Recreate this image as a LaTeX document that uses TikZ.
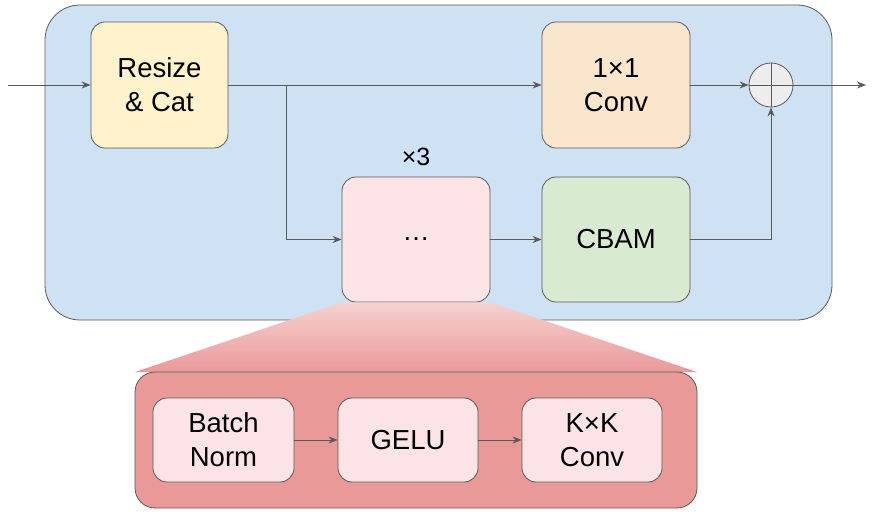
\documentclass[tikz,border=0pt]{standalone}
\usepackage{fontspec}
\setmainfont{Liberation Sans}
\usetikzlibrary{arrows.meta}
\definecolor{bluebg}{HTML}{CFE2F3}
\definecolor{yel}{HTML}{FFF2CC}
\definecolor{ora}{HTML}{FCE5CD}
\definecolor{grn}{HTML}{D9EAD3}
\definecolor{pnk}{HTML}{FCE4E6}
\definecolor{red}{HTML}{EA9999}
\definecolor{ln}{HTML}{595959}
\begin{document}
\begin{tikzpicture}[x=1pt,y=-1pt,
  box/.style={draw=ln,line width=0.8pt,rounded corners=14pt,font=\fontsize{27.5}{34}\selectfont,align=center},
  arr/.style={draw=ln,line width=0.9pt,-{Stealth[length=9pt,width=7pt]}}]
\useasboundingbox (0,0) rectangle (876,513);
\node[draw=ln,line width=0.8pt,fill=bluebg,rounded corners=35pt,minimum width=787pt,minimum height=315pt] (bg) at (438.5,162.5) {};
\node[box,fill=yel,minimum width=137pt,minimum height=126pt] (rc) at (159.5,85) {Resize\\\& Cat};
\node[box,fill=ora,minimum width=148pt,minimum height=126pt] (c11) at (616,85) {1×1\\Conv};
\node[draw=ln,line width=0.8pt,fill=black!7,circle,minimum size=44pt,inner sep=0] (plus) at (771,85) {};
\draw[ln,line width=0.8pt] (plus.north)--(plus.south) (plus.west)--(plus.east);
\node[box,fill=pnk,minimum width=148pt,minimum height=125pt] (dots) at (416,239.5) {…};
\node[font=\fontsize{25}{30}\selectfont] (x3) at (416,157) {×3};
\node[box,fill=grn,minimum width=148pt,minimum height=125pt] (cbam) at (616,239.5) {CBAM};
\shade[top color=red!45,bottom color=red] (dots.south west) -- (dots.south east) -- (697,372) -- (135,372) -- cycle;
\node[draw=ln,line width=0.8pt,fill=red,rounded corners=20pt,minimum width=562pt,minimum height=136pt] (bot) at (416,440) {};
\node[box,fill=pnk,minimum width=141pt,minimum height=84pt] (bn) at (223.5,440) {Batch\\Norm};
\node[box,fill=pnk,minimum width=140pt,minimum height=84pt] (ge) at (408,440) {GELU};
\node[box,fill=pnk,minimum width=140pt,minimum height=84pt] (kk) at (592,440) {K×K\\Conv};
\coordinate (in) at (8,85);
\coordinate (out) at (866,85);
\coordinate (br) at (286,85);
\draw[arr] (in) -- (rc);
\draw[arr] (rc) -- (c11);
\draw[arr] (br) |- (dots);
\draw[arr] (dots) -- (cbam);
\draw[arr] (c11) -- (plus);
\draw[arr] (cbam.east) -| (plus.south);
\draw[arr] (plus) -- (out);
\draw[arr] (bn) -- (ge);
\draw[arr] (ge) -- (kk);
\end{tikzpicture}
\end{document}
